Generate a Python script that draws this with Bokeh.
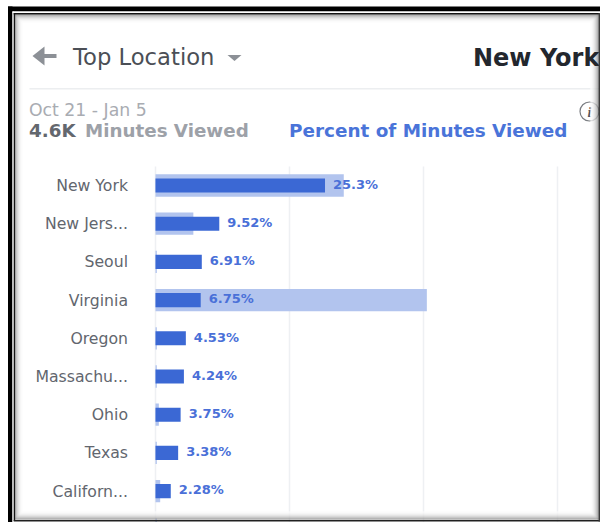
from bokeh.plotting import figure
from bokeh.models import Range1d
from bokeh.core.properties import value
from bokeh.embed import file_html
from bokeh.resources import INLINE

# --- data ---
locations = ["New York", "New Jers...", "Seoul", "Virginia", "Oregon",
             "Massachu...", "Ohio", "Texas", "Californ...", ""]
percent_viewed = [25.3, 9.52, 6.91, 6.75, 4.53, 4.24, 3.75, 3.38, 2.28, 0.0]
percent_labels = ["25.3%", "9.52%", "6.91%", "6.75%", "4.53%", "4.24%", "3.75%", "3.38%", "2.28%", ""]
comparison = [28.1, 5.65, 0.2, 40.5, 0.2, 0.2, 0.5, 0.2, 0.7, 0.2]
grid_ticks = [0, 20, 40, 60]
rows = list(range(len(locations)))

FIG_W, FIG_H = 600, 522
PAGE = 0
PX_PER_UNIT = 6.7
X0 = 155.0
ROW0 = 185.0
ROW_H = 38.2
SANS = "DejaVu Sans"

p = figure(width=FIG_W, height=FIG_H, output_backend="svg", toolbar_location=None,
           x_range=Range1d((PAGE - X0) / PX_PER_UNIT, (PAGE + FIG_W - X0) / PX_PER_UNIT),
           y_range=Range1d((PAGE + FIG_H - ROW0) / ROW_H, (PAGE - ROW0) / ROW_H),
           min_border=0, outline_line_color=None, background_fill_color="white",
           border_fill_color="white")
p.axis.visible = False
p.grid.visible = False
p.extra_x_ranges["px"] = Range1d(PAGE, PAGE + FIG_W)
p.extra_y_ranges["px"] = Range1d(PAGE + FIG_H, PAGE)

def px_box(l, r, t, b, color):
    p.quad(left=[l], right=[r], top=[t], bottom=[b], fill_color=color, line_color=None,
           x_range_name="px", y_range_name="px")

def px_text(x, y, s, size, color, style="normal", align="left", font=SANS):
    p.text(x=[x], y=[y], text=[s], text_font=value(font), text_font_size=f"{size}px",
           text_color=color, text_font_style=style, text_align=align, text_baseline="middle",
           x_range_name="px", y_range_name="px")

# --- grid lines and bars ---
p.segment(x0=grid_ticks, x1=grid_ticks, y0=[-0.5] * 4, y1=[8.9] * 4, line_color="#eef0f3", line_width=1.5)
p.hbar(y=rows, left=0, right=comparison, height=0.585, fill_color="#b2c4ee", line_color=None)
p.hbar(y=rows[:-1], left=0, right=percent_viewed[:-1], height=0.37, fill_color="#3b68d4", line_color=None)
p.text(x=percent_viewed, y=[r - 0.03 for r in rows], text=percent_labels, x_offset=8,
       text_font=value(SANS), text_font_size="13px", text_font_style="bold",
       text_color="#4a70d8", text_baseline="middle", text_align="left")
p.text(x=[0] * len(rows), y=rows, text=locations, x_offset=-27.5, text_align="right",
       text_baseline="middle", text_font=value(SANS), text_font_size="15.7px",
       text_color="#62666e")

# --- header ---
p.multi_line(xs=[[35, 56]], ys=[[55.5, 55.5]], line_color="#8c9096", line_width=4,
             x_range_name="px", y_range_name="px")
p.patch(x=[32, 44, 44], y=[55.5, 46, 65], fill_color="#8c9096", line_color=None,
        x_range_name="px", y_range_name="px")
p.patch(x=[227, 241, 234], y=[54.5, 54.5, 60.5], fill_color="#8c9096", line_color=None,
        x_range_name="px", y_range_name="px")
px_text(72.5, 56.5, "Top Location", 22.7, "#4b4f56")
px_box(29, 600, 87.5, 89, "#eceef0")
px_text(28.5, 109.5, "Oct 21 - Jan 5", 17.3, "#a9acb2")
px_text(28.5, 130, "4.6K", 18.3, "#63676e", "bold")
px_text(84.5, 130, "Minutes Viewed", 18.3, "#9da1a8", "bold")
px_text(288.5, 130, "Percent of Minutes Viewed", 18.4, "#4a74d9", "bold")
p.circle(x=[589], y=[111], radius=9.5, fill_color="white", line_color="#7a7d82", line_width=1.2,
         x_range_name="px", y_range_name="px")
px_text(589, 111.5, "i", 14, "#55585e", "bold italic", "center", "Liberation Serif")

# --- picture frame with inner shadow ---
shadow = ["#8a8a8a", "#a5a5a5", "#bdbdbd", "#d2d2d2", "#e2e2e2", "#eeeeee", "#f6f6f6", "#fbfbfb"]
for i, c in enumerate(shadow):
    px_box(14 + i, 15 + i, 14 + i, 519 - i, c)
    px_box(597 - i, 598 - i, 14 + i, 519 - i, c)
    px_box(14 + i, 598 - i, 14 + i, 15 + i, c)
    px_box(14 + i, 598 - i, 518 - i, 519 - i, c)
px_text(472.5, 57, "New York", 24, "#23272e", "bold")
px_box(7.5, 12, 6, 522, "#000000")
px_box(7.5, 600, 6, 11, "#000000")
px_box(12, 600, 11, 12.5, "#ffffff")
px_box(12, 13.2, 11, 522, "#ffffff")
px_box(13.2, 14.6, 12.5, 520.5, "#141414")
px_box(13.2, 600, 12.5, 14, "#141414")
px_box(13.2, 600, 519.5, 521, "#202020")
px_box(598, 600, 12.5, 521, "#3a3a3a")

open("out.html", "w").write(file_html(p, INLINE))
